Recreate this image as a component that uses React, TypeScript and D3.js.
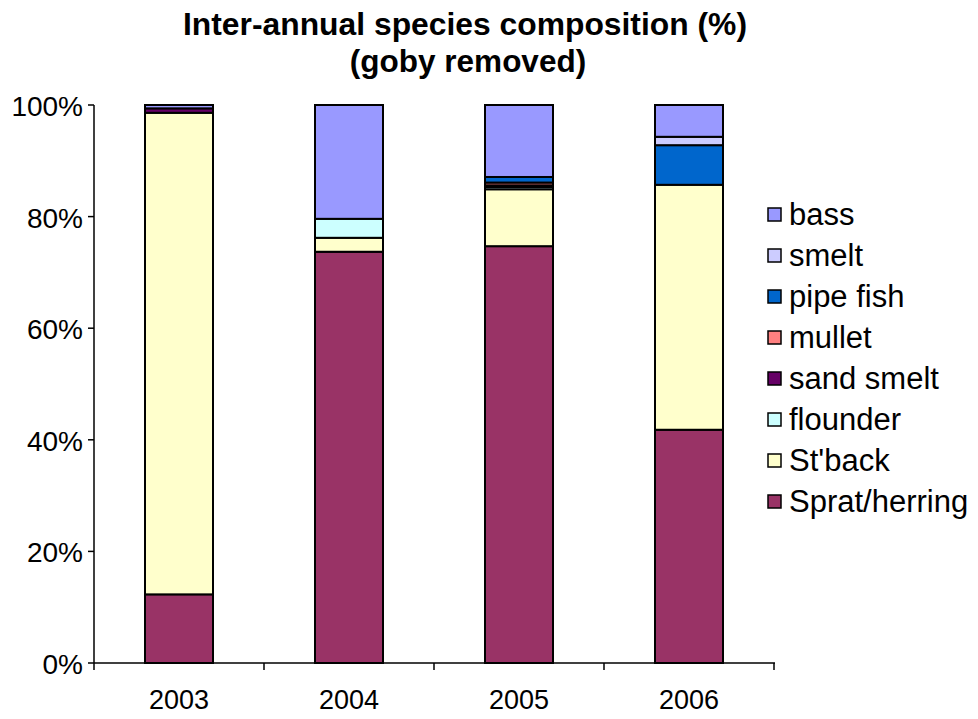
import React from "react";
import * as d3 from "d3";

const years = ["2003", "2004", "2005", "2006"];
const species = ["Sprat/herring", "St'back", "flounder", "sand smelt", "mullet", "pipe fish", "smelt", "bass"];
const colors = ["#993366", "#FFFFCC", "#CCFFFF", "#660066", "#FF8080", "#0066CC", "#CCCCFF", "#9999FF"];
const spratHerring = [12.3, 73.7, 74.7, 41.8];
const stback = [86.3, 2.5, 10.2, 43.9];
const flounder = [0, 3.4, 0.4, 0];
const sandSmelt = [0.8, 0, 0.3, 0];
const mullet = [0, 0, 0.5, 0];
const pipeFish = [0, 0, 1.0, 7.1];
const smelt = [0, 0, 0, 1.5];
const bass = [0.6, 20.4, 12.9, 5.7];
const yTicks = [0, 20, 40, 60, 80, 100];

const seriesValues = [spratHerring, stback, flounder, sandSmelt, mullet, pipeFish, smelt, bass];

export default function App() {
  const W = 978, H = 719;
  const x0 = 94, x1 = 774, yTop = 105, yBot = 663;
  const x = d3.scaleBand().domain(years).range([x0, x1]).paddingInner(0.6).paddingOuter(0.3);
  const xb = d3.scaleBand().domain(years).range([x0, x1]);
  const y = d3.scaleLinear().domain([0, 100]).range([yBot, yTop]);
  const rows = years.map((yr, i) => {
    const o: any = { year: yr };
    species.forEach((s, j) => (o[s] = seriesValues[j][i]));
    return o;
  });
  const stack = d3.stack().keys(species)(rows as any);
  const font = "Arial, 'Liberation Sans', sans-serif";
  const legendOrder = [...species].reverse();
  return (
    <svg width={W} height={H} style={{ position: "absolute", left: 0, top: 0, fontFamily: font }}>
      <rect width={W} height={H} fill="#fff" />
      <text x={465} y={35} textAnchor="middle" fontSize={31.5} fontWeight="bold" textLength={564} lengthAdjust="spacingAndGlyphs">Inter-annual species composition (%)</text>
      <text x={468} y={72} textAnchor="middle" fontSize={31.5} fontWeight="bold">(goby removed)</text>
      {stack.map((layer, j) =>
        layer.map((d, i) => {
          const h = y(d[0]) - y(d[1]);
          if (h <= 0) return null;
          return (
            <rect key={`${j}-${i}`} x={x(years[i])} y={y(d[1])} width={x.bandwidth()} height={h}
              fill={colors[j]} stroke="#000" strokeWidth={2} />
          );
        })
      )}
      <line x1={x0} x2={x0} y1={yTop} y2={yBot} stroke="#000" strokeWidth={1.5} />
      {yTicks.map((t) => (
        <g key={t}>
          <line x1={x0 - 6} x2={x0} y1={y(t)} y2={y(t)} stroke="#000" strokeWidth={1.5} />
          <text x={x0 - 11} y={y(t) + 11} textAnchor="end" fontSize={28}>{t}%</text>
        </g>
      ))}
      <line x1={x0} x2={x1 + 1} y1={yBot} y2={yBot} stroke="#000" strokeWidth={1.5} />
      {[...years.map((yr) => xb(yr) as number), x1].map((t, i) => (
        <line key={i} x1={t} x2={t} y1={yBot} y2={yBot + 7} stroke="#000" strokeWidth={1.5} />
      ))}
      {years.map((yr) => (
        <text key={yr} x={(xb(yr) as number) + xb.bandwidth() / 2} y={709} textAnchor="middle" fontSize={27}>{yr}</text>
      ))}
      {legendOrder.map((s, k) => {
        const j = species.indexOf(s);
        const cy = 215 + k * 41;
        return (
          <g key={s}>
            <rect x={768} y={cy - 7} width={13} height={13} fill={colors[j]} stroke="#000" strokeWidth={1.5} />
            <text x={789} y={cy + 10} fontSize={31}>{s}</text>
          </g>
        );
      })}
    </svg>
  );
}
